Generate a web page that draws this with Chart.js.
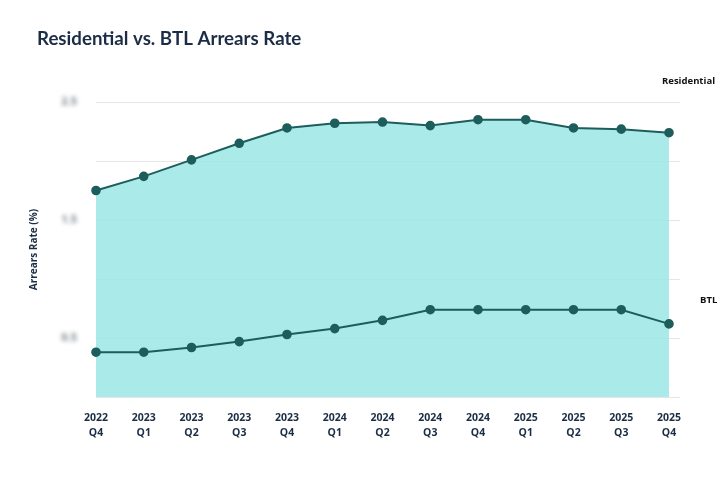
<!DOCTYPE html>
<html><head><meta charset="utf-8">
<script src="https://cdn.jsdelivr.net/npm/chart.js@4/dist/chart.umd.min.js"></script>
<style>html,body{margin:0;padding:0;background:#fff}#wrap{width:723px;height:488px}</style>
</head><body><div id="wrap"><canvas id="c"></canvas></div>
<script>
const categories = [["2022","Q4"],["2023","Q1"],["2023","Q2"],["2023","Q3"],["2023","Q4"],["2024","Q1"],["2024","Q2"],["2024","Q3"],["2024","Q4"],["2025","Q1"],["2025","Q2"],["2025","Q3"],["2025","Q4"]];
const residential = [1.75, 1.87, 2.01, 2.15, 2.28, 2.32, 2.33, 2.30, 2.35, 2.35, 2.28, 2.27, 2.24];
const btl = [0.38, 0.38, 0.42, 0.47, 0.53, 0.58, 0.65, 0.74, 0.74, 0.74, 0.74, 0.74, 0.62];
const yMin = 0, yMax = 2.5, yStep = 0.5;

const navy = '#1b2d45';
const teal = '#1d5e5c';
const fillCol = 'rgba(155,231,230,0.85)';

const blurTicks = {
  id: 'blurTicks',
  beforeDraw(chart) {
    const s = chart.scales.y;
    if (s && !s._blurPatched) {
      const orig = s.drawLabels.bind(s);
      s.drawLabels = function (ca) {
        const ctx = this.ctx; ctx.save(); ctx.filter = 'blur(2.3px)'; orig(ca); ctx.restore();
      };
      s._blurPatched = true;
    }
  }
};
const gridExt = {
  id: 'gridExt',
  beforeDatasetsDraw(chart) {
    const s = chart.scales.y, ca = chart.chartArea, ctx = chart.ctx;
    ctx.save();
    ctx.strokeStyle = '#e6e6e6';
    ctx.lineWidth = 1;
    s.ticks.forEach(t => {
      const y = Math.round(s.getPixelForValue(t.value)) + 0.5;
      ctx.beginPath(); ctx.moveTo(ca.left, y); ctx.lineTo(ca.right + 11, y); ctx.stroke();
    });
    ctx.restore();
  }
};
const textDecor = {
  id: 'textDecor',
  afterDatasetsDraw(chart) {
    const ctx = chart.ctx, ca = chart.chartArea;
    ctx.save();
    ctx.textBaseline = 'middle';
    ctx.textAlign = 'left';
    ctx.fillStyle = navy;
    ctx.font = 'bold 18.7px Lato, sans-serif';
    ctx.fillText('Residential vs. BTL Arrears Rate', 37, 39);
    ctx.font = 'bold 9.5px "Open Sans", sans-serif';
    ctx.fillStyle = '#111';
    ctx.fillText('Residential', ca.right - 7, 81);
    ctx.fillText('BTL', ca.right + 31, 300);
    ctx.restore();
  }
};

new Chart(document.getElementById('c'), {
  type: 'line',
  data: {
    labels: categories,
    datasets: [
      { label: 'Residential', data: residential, borderColor: teal, backgroundColor: fillCol, fill: 'origin',
        borderWidth: 2, pointRadius: 3.8, pointBackgroundColor: teal, pointBorderColor: teal, tension: 0, order: 2 },
      { label: 'BTL', data: btl, borderColor: teal, backgroundColor: teal, fill: false,
        borderWidth: 2, pointRadius: 3.8, pointBackgroundColor: teal, pointBorderColor: teal, tension: 0, order: 1 }
    ]
  },
  options: {
    responsive: true, maintainAspectRatio: false, animation: false,
    layout: { padding: { left: 0, right: 54, top: 102, bottom: 33.5 } },
    plugins: { legend: { display: false }, tooltip: { enabled: false }, title: { display: false } },
    scales: {
      x: {
        grid: { display: false, drawTicks: false }, border: { display: false },
        ticks: { color: navy, font: { family: 'Open Sans', size: 10.5, weight: 'bold', lineHeight: 1.45 }, padding: 13.5, maxRotation: 0, autoSkip: false }
      },
      y: {
        min: yMin, max: yMax,
        afterFit(s) { s.width = 96; },
        grid: { display: false, drawTicks: false }, border: { display: false },
        ticks: { stepSize: yStep, padding: 19, color: '#7f868c', font: { family: 'Open Sans', size: 11, weight: 'bold' },
          callback(v, i) { return i % 2 === 1 ? v.toFixed(1) : ''; } },
        title: { display: true, text: 'Arrears Rate (%)', color: navy, font: { family: 'Open Sans', size: 10, weight: 'bold' }, padding: { top: 28 } }
      }
    }
  },
  plugins: [blurTicks, gridExt, textDecor]
});
</script></body></html>
